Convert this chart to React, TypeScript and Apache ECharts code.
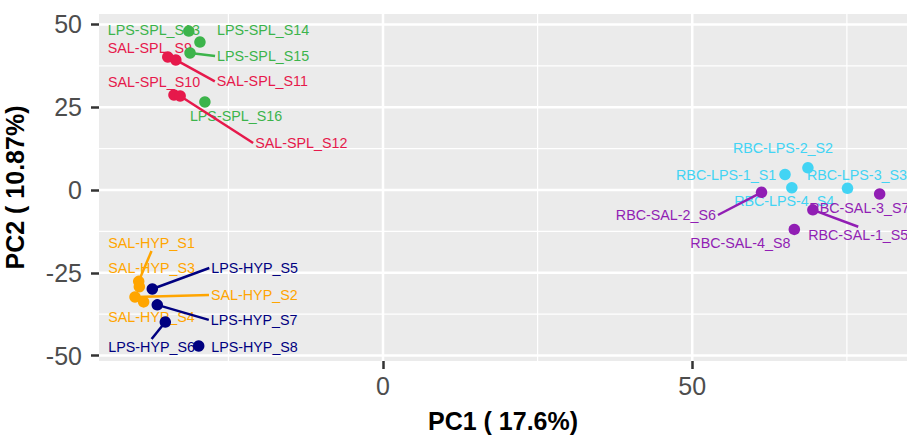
import React, { useEffect, useRef } from "react";
import * as echarts from "echarts";

const FONT = '"Liberation Sans", Arial, Helvetica, sans-serif';

// Groups and colours
const groupNames = ["LPS-SPL", "SAL-SPL", "SAL-HYP", "LPS-HYP", "RBC-LPS", "RBC-SAL"];
const groupColors = ["#3cb44b", "#e6194b", "#ffa500", "#000080", "#42d4f4", "#911eb4"];

// Samples (PCA scores)
const sampleNames = [
  "LPS-SPL_S13", "LPS-SPL_S14", "LPS-SPL_S15", "LPS-SPL_S16",
  "SAL-SPL_S9", "SAL-SPL_S11", "SAL-SPL_S10", "SAL-SPL_S12",
  "SAL-HYP_S1", "SAL-HYP_S3", "SAL-HYP_S2", "SAL-HYP_S4",
  "LPS-HYP_S5", "LPS-HYP_S7", "LPS-HYP_S6", "LPS-HYP_S8",
  "RBC-LPS-2_S2", "RBC-LPS-1_S1", "RBC-LPS-3_S3", "RBC-LPS-4_S4",
  "RBC-SAL-2_S6", "RBC-SAL-3_S7", "RBC-SAL-1_S5", "RBC-SAL-4_S8",
];
const pc1 = [
  -31.4, -29.6, -31.2, -28.8,
  -34.8, -33.5, -33.8, -32.8,
  -39.5, -39.4, -40.1, -38.7,
  -37.3, -36.5, -35.2, -29.8,
  68.7, 65.0, 75.1, 66.1,
  61.2, 80.3, 69.5, 66.5,
];
const pc2 = [
  48.0, 44.7, 41.4, 26.6,
  40.2, 39.3, 28.7, 28.4,
  -27.6, -29.2, -32.3, -33.8,
  -29.9, -34.7, -39.9, -47.1,
  6.7, 4.7, 0.5, 0.7,
  -0.7, -1.2, -6.0, -11.9,
];
const sampleGroup = [
  0, 0, 0, 0,
  1, 1, 1, 1,
  2, 2, 2, 2,
  3, 3, 3, 3,
  4, 4, 4, 4,
  5, 5, 5, 5,
];

// Repelled label placement (pixel offsets from point to label's left-middle, segment side)
const labelLayout: [number, number, string | null][] = [
  [-81, -1, null], [17, -12, null], [27, 3, "L"], [-15, 14, null],
  [-60, -9, null], [41, 21.5, "L"], [-66, -13, null], [75, 47, "L"],
  [-30.5, -38.5, "B"], [-31, -18.5, null], [76, -2, "L"], [-35.5, 15, null],
  [59, -21, "L"], [53.5, 15, "L"], [-57, 25, "T"], [12.5, 1, null],
  [-75, -19.7, null], [-109, 0.7, null], [-40.6, -13.3, null], [-57.7, 13.3, null],
  [-145.7, 22.7, "R"], [-70.3, 14.3, null], [-4.7, 25, "T"], [-104, 13.4, null],
];

// Axis ticks
const xMajorTicks = [0, 50];
const xMinorTicks = [-25, 25, 75];
const yMajorTicks = [-50, -25, 0, 25, 50];
const yMinorTicks = [-37.5, -12.5, 12.5, 37.5];

const X_MIN = -45.92;
const X_MAX = 84.72;
const Y_MIN = -51.66;
const Y_MAX = 53.17;

const LABEL_SIZE = 14.3;
const MAJOR_W = 2.5;
const MINOR_W = 1.2;

let measureCtx: CanvasRenderingContext2D | null = null;
function textWidth(t: string): number {
  if (!measureCtx) {
    measureCtx = document.createElement("canvas").getContext("2d");
  }
  if (!measureCtx) return t.length * 8;
  measureCtx.font = `${LABEL_SIZE}px ${FONT}`;
  return measureCtx.measureText(t).width;
}

export default function App() {
  const ref = useRef<HTMLDivElement>(null);

  useEffect(() => {
    if (!ref.current) return;
    const chart = echarts.init(ref.current, null, { renderer: "svg" });

    // Panel background + grid lines, all drawn through the axes' scales
    const gridSeries = {
      type: "custom",
      z: 1,
      silent: true,
      clip: false,
      data: [[0, 0]],
      encode: { x: 0, y: 1 },
      renderItem: (params: any, api: any) => {
        const children: any[] = [];
        const tl = api.coord([X_MIN, Y_MAX]);
        const br = api.coord([X_MAX, Y_MIN]);
        children.push({
          type: "rect",
          shape: { x: tl[0], y: tl[1], width: br[0] - tl[0], height: br[1] - tl[1] },
          style: { fill: "#ebebeb" },
        });
        const hLine = (v: number, w: number) => {
          const y = api.coord([0, v])[1];
          children.push({
            type: "polyline",
            shape: { points: [[tl[0], y], [(tl[0] + br[0]) / 2, y + 0.001], [br[0], y]] },
            style: { stroke: "#ffffff", lineWidth: w, fill: null },
          });
        };
        const vLine = (v: number, w: number) => {
          const x = api.coord([v, 0])[0];
          children.push({
            type: "polyline",
            shape: { points: [[x, tl[1]], [x + 0.001, (tl[1] + br[1]) / 2], [x, br[1]]] },
            style: { stroke: "#ffffff", lineWidth: w, fill: null },
          });
        };
        yMinorTicks.forEach((v) => hLine(v, MINOR_W));
        xMinorTicks.forEach((v) => vLine(v, MINOR_W));
        yMajorTicks.forEach((v) => hLine(v, MAJOR_W));
        xMajorTicks.forEach((v) => vLine(v, MAJOR_W));
        return { type: "group", children };
      },
    };

    const scatterSeries = groupNames.map((g, gi) => ({
      type: "scatter",
      name: g,
      z: 3,
      symbol: "circle",
      symbolSize: 11.5,
      itemStyle: { color: groupColors[gi], opacity: 1 },
      data: sampleNames
        .map((n, i) => (sampleGroup[i] === gi ? [pc1[i], pc2[i]] : null))
        .filter((d) => d !== null),
    }));

    const labelSeries = {
      type: "custom",
      z: 2,
      silent: true,
      data: sampleNames.map((n, i) => [pc1[i], pc2[i], i]),
      encode: { x: 0, y: 1 },
      renderItem: (params: any, api: any) => {
        const i = api.value(2);
        const p = api.coord([api.value(0), api.value(1)]);
        const [dx, dy, seg] = labelLayout[i];
        const color = groupColors[sampleGroup[i]];
        const tx = p[0] + dx;
        const ty = p[1] + dy;
        const w = textWidth(sampleNames[i]);
        const h = LABEL_SIZE;
        const children: any[] = [];
        if (seg) {
          let ex = tx;
          let ey = ty;
          if (seg === "L") { ex = tx - 2; ey = ty; }
          else if (seg === "R") { ex = tx + w + 2; ey = ty; }
          else if (seg === "T") { ex = tx + w / 2; ey = ty - h / 2 - 1; }
          else if (seg === "B") { ex = tx + w / 2; ey = ty + h / 2 + 1; }
          children.push({
            type: "line",
            shape: { x1: p[0], y1: p[1], x2: ex, y2: ey },
            style: { stroke: color, lineWidth: 2.5 },
          });
        }
        children.push({
          type: "text",
          x: tx,
          y: ty,
          style: {
            text: sampleNames[i],
            fill: color,
            fontSize: LABEL_SIZE,
            fontFamily: FONT,
            align: "left",
            verticalAlign: "middle",
          },
        });
        return { type: "group", children };
      },
    };

    const option: any = {
      animation: false,
      backgroundColor: "#ffffff",
      textStyle: { fontFamily: FONT },
      grid: {
        left: 99,
        right: 0,
        top: 14,
        bottom: 75,
        show: false,
        outerBoundsMode: "none",
        containLabel: false,
      },
      xAxis: {
        type: "value",
        min: X_MIN,
        max: X_MAX,
        axisLine: { show: false, onZero: false },
        axisTick: {
          show: true,
          customValues: xMajorTicks,
          length: 8,
          lineStyle: { color: "#333333", width: 2.5 },
        },
        axisLabel: {
          customValues: xMajorTicks,
          fontSize: 25,
          color: "#4d4d4d",
          margin: 12,
          fontFamily: FONT,
        },
        splitLine: { show: false },
        name: "PC1 ( 17.6%)",
        nameLocation: "middle",
        nameGap: 47,
        nameTextStyle: { fontSize: 25, fontWeight: "bold", color: "#000000", fontFamily: FONT },
      },
      yAxis: {
        type: "value",
        min: Y_MIN,
        max: Y_MAX,
        axisLine: { show: false, onZero: false },
        axisTick: {
          show: true,
          customValues: yMajorTicks,
          length: 8,
          lineStyle: { color: "#333333", width: 2.5 },
        },
        axisLabel: {
          customValues: yMajorTicks,
          fontSize: 25,
          color: "#4d4d4d",
          margin: 17,
          fontFamily: FONT,
        },
        splitLine: { show: false },
        name: "PC2 ( 10.87%)",
        nameLocation: "middle",
        nameGap: 72,
        nameTextStyle: { fontSize: 25, fontWeight: "bold", color: "#000000", fontFamily: FONT },
      },
      series: [gridSeries, labelSeries, ...scatterSeries],
    };

    chart.setOption(option);
    return () => chart.dispose();
  }, []);

  return (
    <div
      ref={ref}
      style={{ position: "absolute", left: 0, top: 0, width: 907, height: 436 }}
    />
  );
}
